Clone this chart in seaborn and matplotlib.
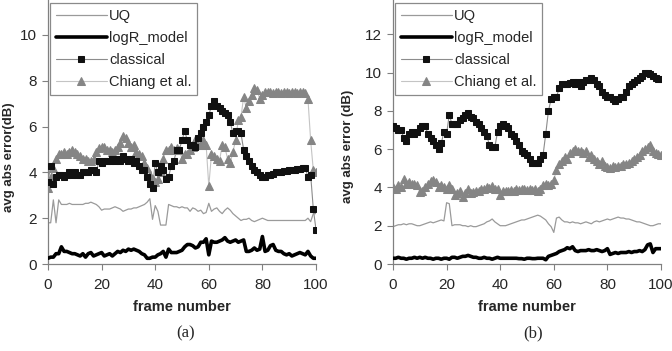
import numpy as np
import pandas as pd
import matplotlib
matplotlib.use("Agg")
import matplotlib.pyplot as plt
import seaborn as sns

frames = list(range(0, 101))
x_ticks = [0, 20, 40, 60, 80, 100]
series_names = ["UQ", "logR_model", "classical", "Chiang et al."]

# ---------------- panel (a) ----------------
a_uq = [1.8, 1.8, 2.8, 1.8, 2.8, 2.6, 2.6, 2.6, 2.65, 2.6, 2.6, 2.6, 2.6, 2.6, 2.65, 2.65, 2.7, 2.65, 2.6, 2.5,
        2.35, 2.4, 2.4, 2.4, 2.45, 2.5, 2.45, 2.4, 2.3, 2.35, 2.4, 2.4, 2.45, 2.45, 2.5, 2.55, 2.6, 2.7, 2.85, 1.95,
        2.55, 2.3, 1.7, 1.7, 1.7, 2.6, 2.55, 2.5, 2.5, 2.45, 2.5, 2.45, 2.45, 2.3, 2.45, 2.4, 2.3, 2.35, 2.2, 2.25,
        2.65, 2.3, 2.4, 2.45, 2.3, 2.2, 2.35, 2.45, 2.35, 2.2, 2.1, 2.0, 1.9, 1.95, 1.95, 2.0, 1.9, 1.85, 1.9, 1.95,
        2.0, 1.95, 1.9, 1.9, 1.9, 1.9, 1.9, 1.9, 1.9, 1.9, 1.9, 1.9, 1.9, 1.9, 1.9, 1.9, 1.9, 2.0, 1.85, 2.2, 2.2]
a_logr = [0.25, 0.3, 0.3, 0.45, 0.45, 0.75, 0.55, 0.55, 0.5, 0.45, 0.45, 0.4, 0.35, 0.45, 0.3, 0.45, 0.5, 0.35, 0.4, 0.45,
          0.5, 0.35, 0.4, 0.45, 0.35, 0.45, 0.55, 0.5, 0.6, 0.55, 0.65, 0.6, 0.65, 0.6, 0.55, 0.45, 0.4, 0.25, 0.25, 0.3,
          0.3, 0.4, 0.45, 0.55, 0.3, 0.65, 0.5, 0.5, 0.5, 0.55, 0.6, 0.75, 0.85, 0.85, 0.8, 0.7, 0.75, 0.95, 0.95, 1.1,
          0.4, 1.0, 0.95, 0.95, 1.0, 1.05, 1.15, 1.0, 0.95, 1.0, 1.05, 0.95, 1.0, 1.05, 0.55, 0.55, 0.6, 0.7, 0.6, 0.65,
          1.2, 0.55, 0.6, 0.8, 0.85, 0.6, 0.55, 0.55, 0.45, 0.4, 0.45, 0.35, 0.4, 0.45, 0.5, 0.45, 0.4, 0.55, 0.35, 0.25, 0.25]
a_classical = [3.6, 4.3, 3.5, 3.8, 3.9, 3.9, 3.8, 3.9, 4.0, 3.9, 4.0, 3.9, 3.9, 4.0, 4.0, 4.0, 4.1, 4.1, 4.0, 4.5,
               4.4, 4.5, 4.5, 4.5, 4.6, 4.5, 4.6, 4.5, 4.7, 4.6, 4.5, 4.6, 4.4, 4.5, 4.3, 4.1, 4.1, 3.8, 3.5, 3.3,
               4.4, 4.0, 4.3, 4.1, 3.7, 3.8, 4.3, 4.5, 5.0, 5.0, 5.4, 5.8, 5.4, 5.2, 5.2, 5.1, 5.5, 5.7, 6.0, 6.2,
               6.5, 6.9, 7.1, 6.9, 6.8, 6.7, 6.6, 6.5, 6.2, 5.7, 5.8, 5.8, 5.7, 5.0, 4.7, 4.5, 4.3, 4.1, 4.0, 3.9,
               3.8, 3.8, 3.9, 3.9, 3.95, 4.0, 4.0, 4.0, 4.05, 4.05, 4.1, 4.1, 4.1, 4.15, 4.15, 4.2, 4.2, 3.8, 3.9, 2.4, 1.5]
a_chiang = [3.3, 3.8, 4.2, 4.6, 4.8, 4.8, 4.9, 4.8, 4.9, 5.0, 4.9, 4.8, 4.7, 4.6, 4.6, 4.5, 4.5, 4.6, 4.9, 5.05,
            5.1, 5.1, 5.0, 5.0, 4.9, 5.0, 5.1, 5.3, 5.6, 5.5, 5.3, 5.1, 5.2, 4.9, 4.8, 4.7, 4.4, 4.2, 3.9, 3.7,
            3.6, 3.7, 4.0, 4.6, 5.0, 5.0, 5.1, 5.0, 5.05, 5.0, 4.6, 4.8, 4.8, 5.0, 5.1, 5.4, 5.2, 5.2, 5.4, 5.2,
            3.4, 4.8, 4.7, 4.6, 4.5, 5.2, 5.1, 4.6, 4.4, 4.9, 5.4, 6.3, 6.4, 7.3, 6.8, 7.1, 7.4, 7.7, 7.6, 7.2,
            7.4, 7.5, 7.5, 7.5, 7.45, 7.5, 7.5, 7.45, 7.5, 7.5, 7.45, 7.5, 7.5, 7.45, 7.5, 7.5, 7.45, 7.2, 5.4, 4.1, 4.0]

# ---------------- panel (b) ----------------
b_uq = [1.95, 2.0, 2.05, 2.05, 2.1, 2.05, 2.1, 2.1, 2.05, 2.0, 2.0, 2.05, 2.1, 2.15, 2.2, 2.15, 2.2, 2.25, 2.3, 2.25,
        3.2, 3.15, 2.0, 2.05, 2.05, 2.05, 2.0, 2.0, 1.95, 2.0, 1.95, 1.95, 2.0, 2.05, 2.1, 2.2, 2.25, 2.35, 2.2, 2.1,
        2.0, 2.0, 2.0, 2.05, 2.1, 2.15, 2.2, 2.25, 2.3, 2.3, 2.35, 2.4, 2.45, 2.5, 2.55, 2.5, 2.4, 2.3, 2.1, 1.95,
        1.65, 2.4, 2.45, 2.3, 2.2, 2.2, 2.15, 2.2, 2.15, 2.15, 2.1, 2.15, 2.2, 2.15, 2.1, 2.2, 2.25, 2.2, 2.25, 2.3,
        2.35, 2.3, 2.35, 2.4, 2.45, 2.4, 2.4, 2.35, 2.35, 2.3, 2.25, 2.2, 2.2, 2.15, 2.1, 2.05, 2.0, 2.0, 2.05, 2.1, 2.1]
b_logr = [0.3, 0.3, 0.35, 0.3, 0.3, 0.25, 0.3, 0.3, 0.35, 0.3, 0.35, 0.3, 0.35, 0.3, 0.3, 0.25, 0.3, 0.3, 0.25, 0.3,
          0.3, 0.25, 0.35, 0.35, 0.3, 0.35, 0.4, 0.4, 0.45, 0.4, 0.35, 0.35, 0.3, 0.3, 0.35, 0.3, 0.3, 0.25, 0.3, 0.35,
          0.3, 0.3, 0.3, 0.3, 0.3, 0.3, 0.3, 0.28, 0.28, 0.25, 0.3, 0.3, 0.28, 0.28, 0.3, 0.3, 0.3, 0.22, 0.4, 0.45,
          0.5, 0.55, 0.65, 0.7, 0.75, 0.85, 0.8, 0.9, 0.7, 0.65, 0.7, 0.7, 0.7, 0.75, 0.7, 0.7, 0.75, 0.7, 0.65, 0.7,
          0.8, 0.5, 0.55, 0.6, 0.55, 0.6, 0.6, 0.6, 0.65, 0.6, 0.65, 0.65, 0.7, 0.65, 0.75, 1.0, 1.05, 0.6, 0.8, 0.8, 0.8]
b_classical = [7.2, 7.1, 7.0, 7.0, 6.6, 6.4, 6.8, 6.9, 6.8, 6.9, 7.1, 7.2, 7.2, 6.8, 6.6, 6.4, 6.2, 6.0, 6.3, 6.9,
               6.8, 7.8, 7.3, 7.3, 7.3, 7.5, 7.6, 7.8, 7.9, 7.7, 7.6, 7.4, 7.3, 7.1, 6.9, 6.7, 6.2, 6.1, 6.1, 6.9,
               7.2, 7.3, 7.2, 7.1, 6.8, 6.7, 6.4, 6.2, 5.9, 5.8, 5.7, 5.5, 5.3, 5.3, 5.3, 5.5, 5.7, 6.8, 8.0, 8.6,
               8.7, 8.7, 9.2, 9.4, 9.4, 9.4, 9.45, 9.5, 9.4, 9.5, 9.3, 9.5, 9.6, 9.6, 9.7, 9.6, 9.4, 9.3, 9.0, 8.8,
               8.7, 8.7, 8.6, 8.5, 8.6, 8.7, 8.7, 9.0, 9.3, 9.4, 9.5, 9.6, 9.7, 9.8, 10.0, 9.95, 9.9, 9.8, 9.7, 9.65, 9.65]
b_chiang = [4.0, 3.9, 4.1, 4.0, 4.45, 4.2, 4.3, 4.2, 4.2, 4.15, 3.75, 3.8, 4.0, 4.2, 4.35, 4.4, 4.3, 4.0, 4.1, 4.0,
            3.9, 4.1, 3.9, 3.6, 3.7, 3.8, 3.5, 3.7, 3.9, 3.7, 3.75, 3.8, 3.8, 3.9, 3.9, 4.0, 3.95, 4.05, 3.9, 3.9,
            3.6, 3.8, 3.8, 3.8, 3.85, 3.8, 3.9, 3.85, 3.9, 3.9, 3.85, 3.9, 3.85, 3.9, 3.8, 3.9, 4.1, 4.2, 4.1, 4.2,
            4.4, 4.9, 5.2, 5.4, 5.6, 5.5, 5.8, 5.9, 6.0, 5.9, 5.9, 5.8, 5.9, 5.6, 5.7, 5.5, 5.4, 5.2, 5.4, 5.1,
            5.05, 5.0, 5.1, 5.05, 5.1, 5.1, 5.2, 5.2, 5.3, 5.4, 5.5, 5.6, 5.7, 5.9, 6.0, 6.1, 6.2, 5.9, 5.8, 5.75, 5.7]

a_yticks = [0, 2, 4, 6, 8, 10]
b_yticks = [0, 2, 4, 6, 8, 10, 12]

sns.set_style("white")
plt.rcParams["font.family"] = ["Liberation Sans", "DejaVu Sans"]

W, H = 672, 351
fig = plt.figure(figsize=(W / 100, H / 100), dpi=100)

def make_df(uq, logr, cl, ch):
    rows = []
    for name, vals in zip(series_names, [uq, logr, cl, ch]):
        for f, v in zip(frames, vals):
            rows.append((f, v, name))
    return pd.DataFrame(rows, columns=["frame", "value", "series"])

def draw(ax, df, yticks, ylabel, label_xy):
    d = df[df.series == "UQ"]
    sns.lineplot(data=d, x="frame", y="value", ax=ax, color="#9a9a9a", linewidth=0.9,
                 label="UQ", zorder=2)
    d = df[df.series == "logR_model"]
    sns.lineplot(data=d, x="frame", y="value", ax=ax, color="#000000", linewidth=2.6,
                 label="logR_model", zorder=3)
    d = df[df.series == "classical"]
    sns.lineplot(data=d, x="frame", y="value", ax=ax, color="#8c8c8c", linewidth=0.8,
                 marker="s", markersize=5, markerfacecolor="#111111", markeredgecolor="#111111",
                 label="classical", zorder=5)
    d = df[df.series == "Chiang et al."]
    sns.lineplot(data=d, x="frame", y="value", ax=ax, color="#c4c4c4", linewidth=0.8,
                 marker="^", markersize=5.5, markerfacecolor="#858585", markeredgecolor="#858585",
                 label="Chiang et al.", zorder=4)
    ax.set_xlim(0, 100)
    ax.set_xticks(x_ticks)
    ax.set_yticks(yticks)
    ax.set_xlabel("frame number", fontsize=10.5, fontweight="bold", labelpad=6)
    ax.set_ylabel(ylabel, fontsize=9.5, fontweight="bold")
    ax.yaxis.set_label_coords(*label_xy)
    ax.tick_params(axis="both", labelsize=11, direction="out", length=4, width=0.8,
                   color="#808080", left=True, bottom=True)
    ax.tick_params(axis="x", pad=6)
    ax.tick_params(axis="y", pad=4)
    for s in ["top", "right"]:
        ax.spines[s].set_visible(False)
    for s in ["left", "bottom"]:
        ax.spines[s].set_color("#808080")
        ax.spines[s].set_linewidth(0.9)
    leg = ax.legend(loc="upper left", bbox_to_anchor=(2 / 268, 1 - 3 / 264), fontsize=10.5,
                    frameon=True, fancybox=False, edgecolor="#8a8a8a", framealpha=1,
                    handlelength=3.5, handletextpad=0.15, labelspacing=0.55,
                    borderpad=0.4, borderaxespad=0)
    leg.get_frame().set_linewidth(0.9)

bottom = 1 - 264 / H
height = 264 / H
ax1 = fig.add_axes([48 / W, bottom, 268 / W, height])
ax2 = fig.add_axes([393 / W, bottom, 268 / W, height])

draw(ax1, make_df(a_uq, a_logr, a_classical, a_chiang), a_yticks, "avg abs error(dB)",
     ((15 - 48) / 268, (264 - 157) / 264))
ax1.set_ylim(0, 264 / 22.9)
draw(ax2, make_df(b_uq, b_logr, b_classical, b_chiang), b_yticks, "avg abs error (dB)",
     ((354 - 393) / 268, (264 - 146) / 264))
ax2.set_ylim(0, 264 / 19.15)

fig.text(186 / W, 1 - 333 / H, "(a)", ha="center", va="center", fontsize=12,
         family=["Liberation Serif", "DejaVu Serif"])
fig.text(533 / W, 1 - 333 / H, "(b)", ha="center", va="center", fontsize=12,
         family=["Liberation Serif", "DejaVu Serif"])

fig.savefig("out.png", dpi=100)
